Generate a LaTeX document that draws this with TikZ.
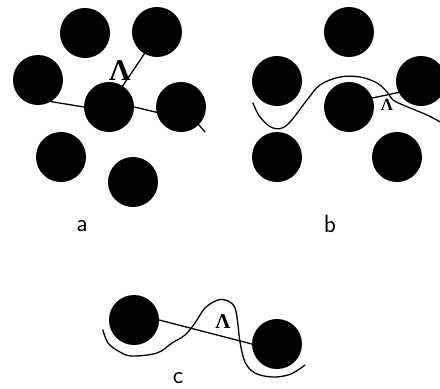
\documentclass[tikz,border=0pt]{standalone}
\usepackage{fontspec}
\newfontfamily\lamfont{Liberation Serif}
\begin{document}
\begin{tikzpicture}[x=1pt,y=-1pt,
  ball/.style={circle,fill=black,inner sep=0pt,minimum size=50pt},
  wire/.style={line width=1.3pt,line join=round,line cap=round},
  lam/.style={inner sep=0pt,font=\lamfont\bfseries\fontsize{#1}{#1}\selectfont},
  lbl/.style={inner sep=0pt,font=\fontsize{25}{27}\selectfont\sffamily}]
\useasboundingbox (0,0) rectangle (440,389);
% panel a
\node[ball] (TLa) at (85,33) {};
\node[ball] (TRa) at (157,32) {};
\node[ball] (La) at (38,80) {};
\node[ball] (Ca) at (109,107) {};
\node[ball] (Ra) at (181,107) {};
\node[ball] (BLa) at (61,157) {};
\node[ball] (Ba) at (133,182) {};
\coordinate (tailA) at (205,132);
\draw[wire] (La.-59) -- (Ca.west) -- (Ca.east) -- (Ra.192) -- (Ra.-45) -- (tailA);
\draw[wire] (Ca.57) -- (TRa.240);
\node[lam=30] (lamA) at (120,71) {Λ};
\node[lbl] (la) at (82,226) {a};
% panel b
\node[ball] (Tb) at (349,32) {};
\node[ball] (Lb) at (277,81) {};
\node[ball] (Cb) at (349,107) {};
\node[ball] (Rb) at (421,81) {};
\node[ball] (BLb) at (277,157) {};
\node[ball] (BRb) at (397,157) {};
\draw[wire] (Cb.21) -- (Rb.207);
\draw[wire] plot[smooth,tension=0.6] coordinates {(253,103) (260,117) (273,128) (287,125) (307,100) (320,85) (340,77) (360,77) (377,83) (387,92) (393,100) (403,105) (427,115) (442,123)};
\node[lam=17] (lamB) at (387,105) {Λ};
\node[lbl] (lb) at (330,224) {b};
% panel c
\node[ball] (Lc) at (134,320) {};
\node[ball] (Rc) at (277,344) {};
\draw[wire] (Lc.east) -- (Rc.west);
\draw[wire] plot[smooth,tension=0.6] coordinates {(103,330) (108,343) (120,352) (132,356) (157,353) (172,343) (185,335) (195,323) (205,308) (218,300) (228,301) (235,308) (238,325) (240,342) (245,362) (255,373) (272,377) (288,375) (298,370) (305,365)};
\node[lam=21] (lamC) at (223,322) {Λ};
\node[lbl] (lc) at (178,378) {c};
\end{tikzpicture}
\end{document}
